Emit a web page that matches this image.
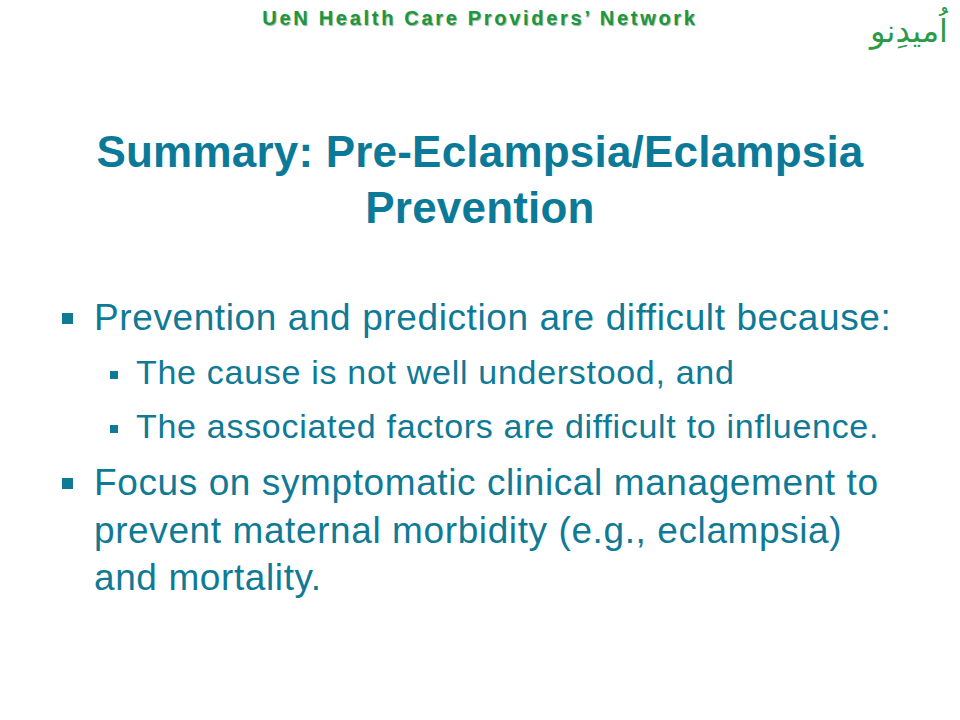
<!DOCTYPE html>
<html>
<head>
<meta charset="utf-8">
<script src="https://cdn.jsdelivr.net/npm/chart.js@4"></script>
<style>
  html, body { margin:0; padding:0; background:#fff; }
  #slide { position:relative; width:960px; height:720px; overflow:hidden; font-family:"Liberation Sans", Arial, sans-serif; }
  .hdr { position:absolute; top:7px; left:0; width:960px; text-align:center; font-weight:bold; font-size:20px; letter-spacing:2.7px; color:#1b9741; text-shadow:1px 1px 1px #9ab39f; }
  .logo { position:absolute; top:12px; right:12px; font-family:"DejaVu Sans", sans-serif; font-size:32px; color:#2c9a47; direction:rtl; }
  .title { position:absolute; left:0; width:960px; text-align:center; font-weight:bold; font-size:44px; letter-spacing:0.2px; color:#0b7a98; line-height:56px; top:124px; }
  .ln { position:absolute; white-space:nowrap; color:#0f7a96; }
  .l1 { left:94px; font-size:37px; letter-spacing:0.6px; }
  .l2 { left:136px; font-size:34px; letter-spacing:0.7px; }
  .b { position:absolute; background:#0f7a96; }
</style>
</head>
<body>
<div id="slide">
  <div class="hdr" id="hdr"></div>
  <div class="logo" id="logo"></div>
  <div class="title" id="title"></div>
  <div id="body"></div>
</div>
<script>
// Slide content
const headerText = 'UeN Health Care Providers\u2019 Network';
const logoText = 'اُمیدِنو';
const titleLines = ['Summary: Pre-Eclampsia/Eclampsia', 'Prevention'];
const bulletLevels = [1, 2, 2, 1, 0, 0];
const bulletLines = [
  'Prevention and prediction are difficult because:',
  'The cause is not well understood, and',
  'The associated factors are difficult to influence.',
  'Focus on symptomatic clinical management to',
  'prevent maternal morbidity (e.g., eclampsia)',
  'and mortality.'
];
const lineTops = [297, 353, 407, 462, 510, 557];

document.getElementById('hdr').textContent = headerText;
document.getElementById('logo').textContent = logoText;
document.getElementById('title').innerHTML = titleLines.join('<br>');

const bodyEl = document.getElementById('body');
bulletLines.forEach((txt, i) => {
  const lvl = bulletLevels[i];
  const d = document.createElement('div');
  d.className = 'ln ' + (lvl === 2 ? 'l2' : 'l1');
  d.style.top = lineTops[i] + 'px';
  d.textContent = txt;
  bodyEl.appendChild(d);
  if (lvl) {
    const b = document.createElement('div');
    b.className = 'b';
    const s = lvl === 1 ? 11 : 8;
    b.style.width = s + 'px'; b.style.height = s + 'px';
    b.style.left = (lvl === 1 ? 62 : 110) + 'px';
    b.style.top = (lvl === 1 ? lineTops[i] + 16 : lineTops[i] + 18) + 'px';
    bodyEl.appendChild(b);
  }
});
</script>
</body>
</html>
